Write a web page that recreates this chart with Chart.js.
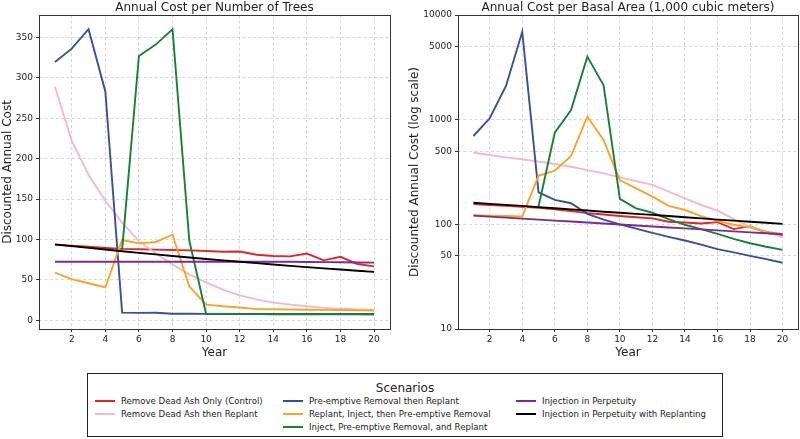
<!DOCTYPE html>
<html>
<head>
<meta charset="utf-8">
<script src="https://cdn.jsdelivr.net/npm/chart.js@4/dist/chart.umd.min.js"></script>
<style>
html,body{margin:0;padding:0;background:#fff;width:800px;height:439px;overflow:hidden;font-family:"DejaVu Sans",sans-serif;}
#c1{position:absolute;left:0;top:0;}
#c2{position:absolute;left:400px;top:0;}
#legend{position:absolute;left:87px;top:373px;width:636px;height:64px;border:1px solid #222;box-sizing:border-box;color:#222;}
#legend .ttl{position:absolute;left:0;width:100%;text-align:center;font-size:12px;line-height:14px;}
#legend .sw{position:absolute;width:20px;height:0;border-top:2.2px solid #000;}
#legend .lb{position:absolute;font-size:8.6px;line-height:10px;white-space:nowrap;}
</style>
</head>
<body>
<canvas id="c1" width="400" height="370"></canvas>
<canvas id="c2" width="400" height="370"></canvas>
<div id="legend"></div>
<script>
// ---- data ----
const years = [1,2,3,4,5,6,7,8,9,10,11,12,13,14,15,16,17,18,19,20];
const yearTicks = [2,4,6,8,10,12,14,16,18,20];
const treeTicks = [0,50,100,150,200,250,300,350];
const basalTicks = [10,50,100,500,1000,5000,10000];

const scenarioNames = [
  "Remove Dead Ash Only (Control)",
  "Remove Dead Ash then Replant",
  "Pre-emptive Removal then Replant",
  "Replant, Inject, then Pre-emptive Removal",
  "Inject, Pre-emptive Removal, and Replant",
  "Injection in Perpetuity",
  "Injection in Perpetuity with Replanting"
];

// Annual cost per number of trees
const treeControl          = [93.5, 92.3, 91, 89.7, 88.5, 88, 87.5, 87, 86.6, 85.8, 84.9, 85.2, 81.2, 79.6, 79.2, 82.7, 74.3, 78.6, 69.8, 66.8];
const treeReplant          = [289, 222, 180, 148, 121, 98, 83, 69, 57, 47, 38, 31, 26, 22, 19.5, 17.5, 15.5, 14.5, 13.5, 13];
const treePreRemoval       = [319.5, 336, 360, 283, 9.6, 9.3, 9.5, 8.2, 8.2, 8.1, 8.1, 8, 8, 8, 8, 8, 8, 8, 8, 8];
const treeReplantInject    = [59, 51, 46, 41, 99.5, 95.3, 97, 106, 42, 19.5, 17.5, 16, 14, 13.8, 13.5, 13.2, 13, 12.8, 12.5, 12.3];
const treeInjectRemoval    = [null, null, null, null, 87.6, 327, 341, 360, 98.5, 8, 7.9, 7.8, 7.8, 7.7, 7.7, 7.6, 7.6, 7.5, 7.5, 7.4];
const treePerpetuity       = [72.5, 72.5, 72.5, 72.5, 72.5, 72.5, 72.5, 72.5, 72.5, 72.5, 72.5, 72.5, 72.5, 72.5, 72.5, 72.3, 72.1, 71.9, 71.7, 71.5];
const treePerpetuityRepl   = [94, 91.8, 89.7, 87.6, 85.5, 83.5, 81.6, 79.7, 77.8, 76, 74.2, 72.5, 70.8, 69.1, 67.5, 65.9, 64.4, 62.9, 61.4, 60];

// Annual cost per basal area (log scale)
const basalControl         = [156, 153, 150, 147, 144, 139, 134, 128, 124, 120, 117, 114, 106, 104, 102, 105, 90, 96, 83, 79];
const basalReplant         = [483, 459, 436, 418, 397, 377, 355, 330, 307, 281, 259, 238, 205, 177, 153, 135, 112, 95, 85, 75];
const basalPreRemoval      = [698, 1031, 2097, 6918, 202, 171, 159, 126, 111, 100, 91, 83, 76, 70, 64, 58, 54, 50, 46.5, 43];
const basalReplantInject   = [122, 121, 120, 119, 291, 325, 450, 1067, 639, 265, 221, 184, 150, 137, 120, 108, 99, 93.5, 85, 81];
const basalInjectRemoval   = [null, null, null, null, 148, 750, 1236, 4000, 2129, 175, 142, 129, 112, 99, 90, 81, 72.5, 66, 61, 57];
const basalPerpetuity      = [121, 118.4, 115.9, 113.4, 111, 108.6, 106.3, 104, 101.8, 99.6, 97.5, 95.4, 93.4, 91.4, 89.4, 87.5, 85.7, 83.8, 82.1, 80.4];
const basalPerpetuityRepl  = [161, 157, 153.5, 150, 146, 142.5, 139, 135.5, 132, 129, 126, 123, 120, 117, 114, 111, 108.5, 106, 103.5, 101];

// ---- styles ----
const colors = ["#e0262b", "#f4b8c6", "#3a4f9b", "#f5a52a", "#1a7f3b", "#7b2d8c", "#000000"];
const treeSeries  = [treeControl, treeReplant, treePreRemoval, treeReplantInject, treeInjectRemoval, treePerpetuity, treePerpetuityRepl];
const basalSeries = [basalControl, basalReplant, basalPreRemoval, basalReplantInject, basalInjectRemoval, basalPerpetuity, basalPerpetuityRepl];

Chart.defaults.font.family = '"DejaVu Sans", sans-serif';
Chart.defaults.color = '#222';

function makeDatasets(series) {
  const n = series.length;
  return series.map((vals, i) => ({
    label: scenarioNames[i],
    data: years.map((x, k) => ({x: x, y: vals[k]})),
    borderColor: colors[i],
    backgroundColor: colors[i],
    borderWidth: 1.9,
    pointRadius: 0,
    tension: 0,
    spanGaps: false,
    order: n - 1 - i
  }));
}

const framePlugin = {
  id: 'frame',
  afterDraw(chart, args, opts) {
    const {ctx, chartArea: a} = chart;
    ctx.save();
    ctx.strokeStyle = '#333';
    ctx.lineWidth = 1;
    ctx.strokeRect(Math.round(a.left) + 0.5, Math.round(a.top) + 0.5, Math.round(a.right - a.left), Math.round(a.bottom - a.top));
    ctx.fillStyle = '#222';
    ctx.font = '12px "DejaVu Sans", sans-serif';
    ctx.textAlign = 'center';
    ctx.textBaseline = 'middle';
    ctx.fillText(opts.text, (a.left + a.right) / 2, 7.5);
    ctx.restore();
  }
};

function gridOpts() {
  return {
    color: 'rgba(0,0,0,0.2)',
    lineWidth: 0.8,
    drawTicks: true,
    tickLength: 3,
    tickColor: '#333',
    tickWidth: 1
  };
}

function xScale() {
  return {
    type: 'linear',
    min: 0.05,
    max: 20.95,
    afterBuildTicks: s => { s.ticks = yearTicks.map(v => ({value: v})); },
    afterFit: s => { s.height = 41; },
    ticks: {font: {size: 9}, padding: 2.5, color: '#222', maxRotation: 0, callback: v => String(v)},
    grid: gridOpts(),
    border: {display: false, dash: [3, 2.5]},
    title: {display: true, text: 'Year', font: {size: 12}, color: '#222', padding: {top: 0, bottom: 10}}
  };
}

// Left chart
new Chart(document.getElementById('c1'), {
  type: 'line',
  data: {datasets: makeDatasets(treeSeries)},
  plugins: [framePlugin],
  options: {
    responsive: false,
    animation: false,
    layout: {padding: {left: 0, top: 15, right: 10, bottom: 0}},
    plugins: {legend: {display: false}, tooltip: {enabled: false}, title: {display: false},
      frame: {text: 'Annual Cost per Number of Trees'}},
    scales: {
      x: xScale(),
      y: {
        type: 'linear',
        min: -10.6,
        max: 377.6,
        afterBuildTicks: s => { s.ticks = treeTicks.map(v => ({value: v})); },
        afterFit: s => { s.width = 39; },
        ticks: {font: {size: 9}, padding: 3, color: '#222', callback: v => String(v)},
        grid: gridOpts(),
        border: {display: false, dash: [3, 2.5]},
        title: {display: true, text: 'Discounted Annual Cost', font: {size: 12}, color: '#222', padding: {top: 1, bottom: 0}}
      }
    }
  }
});

// Right chart
new Chart(document.getElementById('c2'), {
  type: 'line',
  data: {datasets: makeDatasets(basalSeries)},
  plugins: [framePlugin],
  options: {
    responsive: false,
    animation: false,
    layout: {padding: {left: 0, top: 15, right: 2, bottom: 0}},
    plugins: {legend: {display: false}, tooltip: {enabled: false}, title: {display: false},
      frame: {text: 'Annual Cost per Basal Area (1,000 cubic meters)'}},
    scales: {
      x: xScale(),
      y: {
        type: 'logarithmic',
        min: 10,
        max: 10000,
        afterBuildTicks: s => { s.ticks = basalTicks.map(v => ({value: v})); },
        afterFit: s => { s.width = 58; },
        ticks: {font: {size: 9}, padding: 3, color: '#222', callback: v => String(v)},
        grid: gridOpts(),
        border: {display: false, dash: [3, 2.5]},
        title: {display: true, text: 'Discounted Annual Cost (log scale)', font: {size: 12}, color: '#222', padding: {top: 8, bottom: 0}}
      }
    }
  }
});

// Legend (HTML), built from names and colours
const legendCols = [[0, 1], [2, 3, 4], [5, 6]];
const colX = [7, 195, 428];
const rowY = [28, 41, 54];
const lg = document.getElementById('legend');
const t = document.createElement('div');
t.className = 'ttl'; t.textContent = 'Scenarios'; t.style.top = '7px';
lg.appendChild(t);
legendCols.forEach((col, c) => {
  col.forEach((idx, r) => {
    const sw = document.createElement('div');
    sw.className = 'sw';
    sw.style.left = colX[c] + 'px';
    sw.style.top = (rowY[r] - 2) + 'px';
    sw.style.borderTopColor = colors[idx];
    lg.appendChild(sw);
    const lb = document.createElement('div');
    lb.className = 'lb';
    lb.style.left = (colX[c] + 26) + 'px';
    lb.style.top = (rowY[r] - 6) + 'px';
    lb.textContent = scenarioNames[idx];
    lg.appendChild(lb);
  });
});
</script>
</body>
</html>
